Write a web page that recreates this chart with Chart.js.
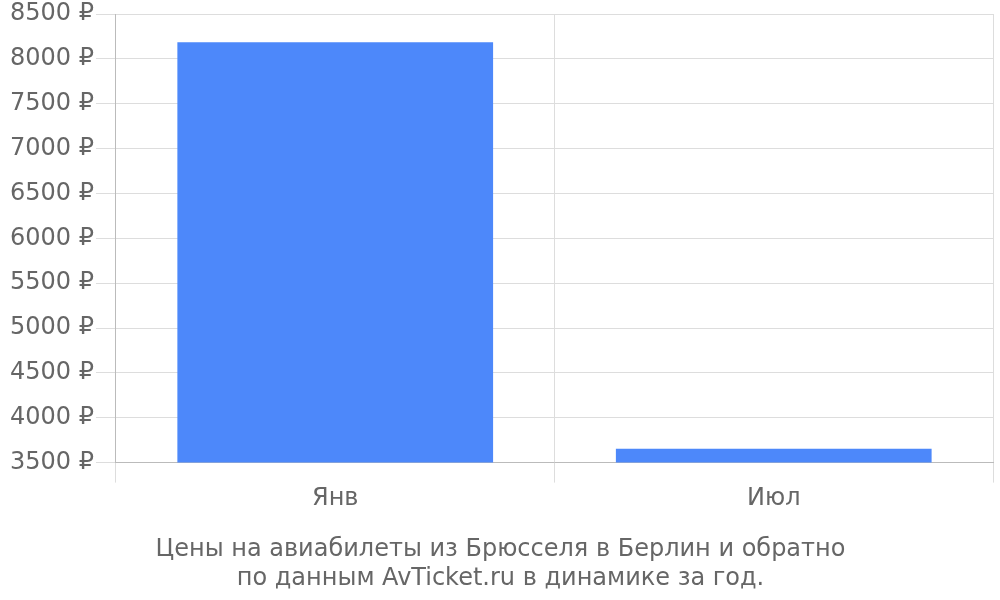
<!DOCTYPE html>
<html>
<head>
<meta charset="utf-8">
<script src="https://cdn.jsdelivr.net/npm/chart.js@4"></script>
<style>
  html, body { margin: 0; padding: 0; background: #fff; }
  #wrap { width: 1000px; height: 600px; }
</style>
</head>
<body>
<div id="wrap"><canvas id="priceChart" width="1000" height="600"></canvas></div>
<script>
// Data
const months = ['Янв', 'Июл'];
const prices = [8185, 3655];
const titleLines = [
  'Цены на авиабилеты из Брюсселя в Берлин и обратно',
  'по данным AvTicket.ru в динамике за год.'
];

Chart.defaults.font.family = '"DejaVu Sans", sans-serif';
Chart.defaults.color = '#666';

const ctx = document.getElementById('priceChart').getContext('2d');
new Chart(ctx, {
  type: 'bar',
  data: {
    labels: months,
    datasets: [{
      data: prices,
      backgroundColor: '#4d88fa',
      categoryPercentage: 0.72,
      barPercentage: 1
    }]
  },
  options: {
    responsive: false,
    animation: false,
    layout: { padding: { left: 8, right: 7, top: 2, bottom: 7 } },
    plugins: {
      legend: { display: false },
      tooltip: { enabled: false },
      title: {
        display: true,
        position: 'bottom',
        text: titleLines,
        color: '#666',
        font: { size: 24, weight: 'normal' },
        padding: { top: 20, bottom: 0 },
        lineHeight: 1.2
      }
    },
    scales: {
      x: {
        grid: { color: '#ddd', tickLength: 20, offset: true },
        border: { color: '#bbb' },
        ticks: { font: { size: 24 }, padding: 2 }
      },
      y: {
        min: 3500,
        max: 8500,
        ticks: {
          stepSize: 500,
          font: { size: 24, lineHeight: 1 },
          padding: 2,
          callback: (value) => value + ' ₽'
        },
        grid: { color: '#ddd', tickLength: 20 },
        border: { color: '#bbb' }
      }
    }
  }
});
</script>
</body>
</html>
